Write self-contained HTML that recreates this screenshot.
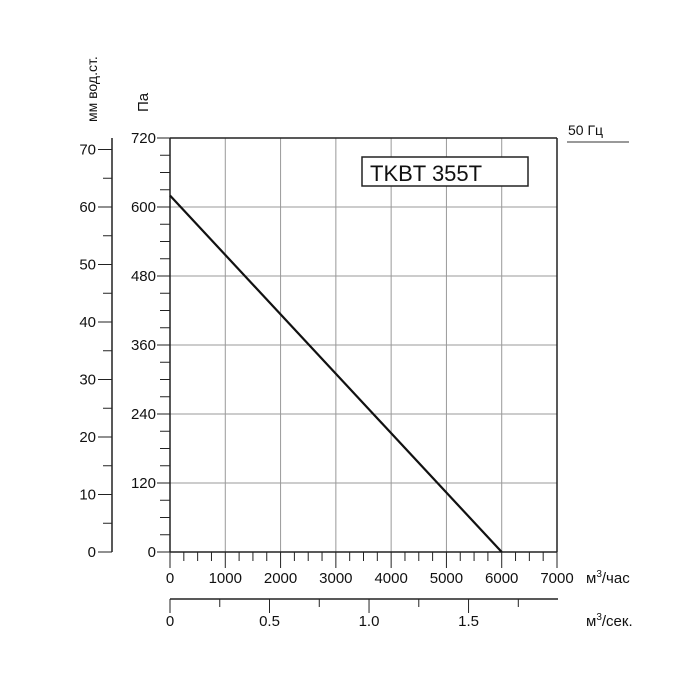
<!DOCTYPE html>
<html><head><meta charset="utf-8"><style>body{margin:0;background:#fff}svg{display:block}text{font-family:"Liberation Sans",sans-serif;fill:#111}</style></head><body>
<svg id="s" width="700" height="700" xmlns="http://www.w3.org/2000/svg"></svg>
<script>
const s=document.getElementById('s');let h='';
const L=170,R=557,T=138,B=552;
const X=v=>L+v*(R-L)/7000, Y=p=>B-p*(B-T)/720;
for(let v=1000;v<7000;v+=1000)h+=`<line x1="${X(v)}" y1="${T}" x2="${X(v)}" y2="${B}" stroke="#999" stroke-width="1"/>`;
for(let p=120;p<720;p+=120)h+=`<line x1="${L}" y1="${Y(p)}" x2="${R}" y2="${Y(p)}" stroke="#999" stroke-width="1"/>`;
h+=`<line x1="${L}" y1="${T}" x2="${R}" y2="${T}" stroke="#222" stroke-width="1.5"/>`;
h+=`<line x1="${R}" y1="${T}" x2="${R}" y2="${B}" stroke="#222" stroke-width="1.5"/>`;
h+=`<line x1="${L}" y1="${T}" x2="${L}" y2="${B}" stroke="#222" stroke-width="1.5"/>`;
h+=`<line x1="${L}" y1="${B}" x2="${R}" y2="${B}" stroke="#222" stroke-width="1.5"/>`;
for(let p=0;p<=720;p+=30){const m=p%120==0;h+=`<line x1="${m?157:160}" y1="${Y(p)}" x2="${L}" y2="${Y(p)}" stroke="#222"/>`;if(m)h+=`<text x="156" y="${Y(p)+5}" font-size="15" text-anchor="end">${p}</text>`;}
h+=`<text transform="translate(148,112) rotate(-90)" font-size="15">Па</text>`;
const my=m=>B-m*5.75;
h+=`<line x1="112" y1="${T}" x2="112" y2="${B}" stroke="#222" stroke-width="1.5"/>`;
for(let m=0;m<=70;m+=5){const M=m%10==0;h+=`<line x1="${M?98:103}" y1="${my(m)}" x2="112" y2="${my(m)}" stroke="#222"/>`;if(M)h+=`<text x="96" y="${my(m)+5}" font-size="15" text-anchor="end">${m}</text>`;}
h+=`<text transform="translate(97,122) rotate(-90)" font-size="14">мм вод.ст.</text>`;
for(let v=0;v<=7000;v+=250){const M=v%1000==0;h+=`<line x1="${X(v)}" y1="${B}" x2="${X(v)}" y2="${M?568:561}" stroke="#222"/>`;if(M)h+=`<text x="${X(v)}" y="583" font-size="15" text-anchor="middle">${v}</text>`;}
h+=`<text x="586" y="583" font-size="15">м<tspan font-size="10" dy="-6">3</tspan><tspan dy="6">/час</tspan></text>`;
const sx=q=>L+q*3600*(R-L)/7000;
h+=`<line x1="${L}" y1="599" x2="558" y2="599" stroke="#222" stroke-width="1.5"/>`;
for(let q=0;q<=1.76;q+=0.25){const M=Math.abs(q*2-Math.round(q*2))<1e-6;h+=`<line x1="${sx(q)}" y1="599" x2="${sx(q)}" y2="${M?613:607}" stroke="#222"/>`;if(M)h+=`<text x="${sx(q)}" y="626" font-size="15" text-anchor="middle">${q==0?'0':q.toFixed(1)}</text>`;}
h+=`<text x="586" y="626" font-size="15">м<tspan font-size="10" dy="-6">3</tspan><tspan dy="6">/сек.</tspan></text>`;
h+=`<line x1="${L}" y1="${Y(620)}" x2="${X(6000)}" y2="${B}" stroke="#111" stroke-width="2.2"/>`;
h+=`<rect x="362" y="157" width="166" height="29" fill="#fff" stroke="#222" stroke-width="1.5"/>`;
h+=`<text x="370" y="181" font-size="22">TKBT 355T</text>`;
h+=`<text x="568" y="135" font-size="14">50  Гц</text><line x1="567" y1="142" x2="629" y2="142" stroke="#333"/>`;
s.innerHTML=h;
</script>
</body></html>
